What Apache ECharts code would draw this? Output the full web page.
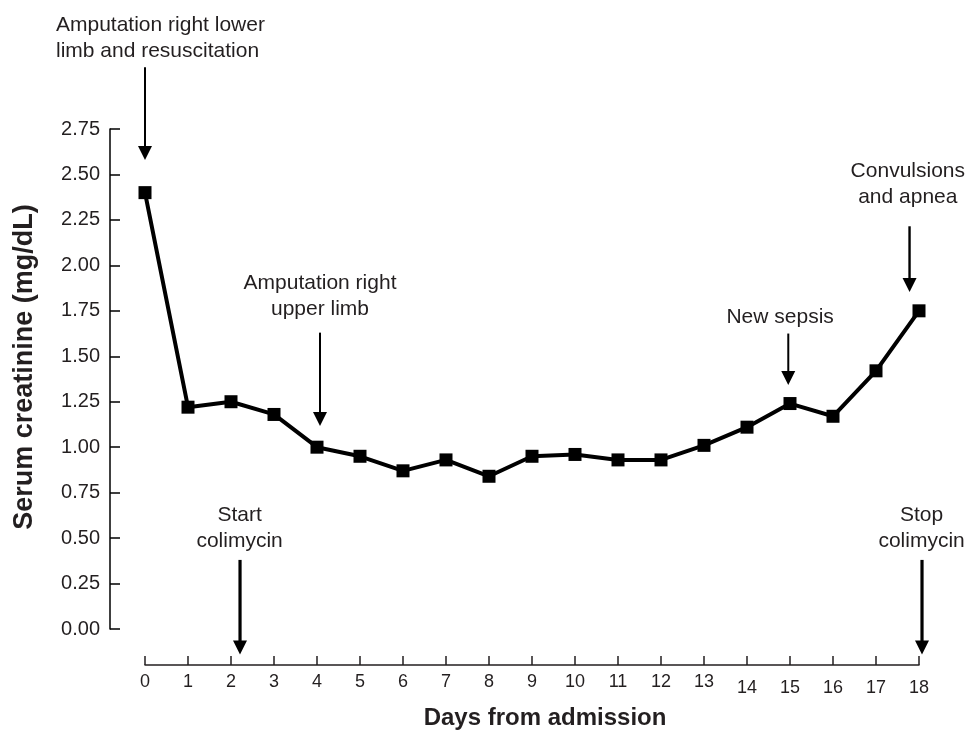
<!DOCTYPE html>
<html>
<head>
<meta charset="utf-8">
<script src="https://cdn.jsdelivr.net/npm/echarts@6/dist/echarts.min.js"></script>
<style>
html,body{margin:0;padding:0;background:#fff;}
#chart{width:972px;height:735px;}
</style>
</head>
<body>
<div id="chart"></div>
<script>
// ---- data ----
const days = [0,1,2,3,4,5,6,7,8,9,10,11,12,13,14,15,16,17,18];
const dayLabels = ['0','1','2','3','4','5','6','7','8','9','10','11','12','13','14','15','16','17','18'];
const creatinine = [2.40,1.22,1.25,1.18,1.00,0.95,0.87,0.93,0.84,0.95,0.96,0.93,0.93,1.01,1.11,1.24,1.17,1.42,1.75];
const yTicks = [0,0.25,0.5,0.75,1,1.25,1.5,1.75,2,2.25,2.5,2.75];
const eventLabels = [
  'Amputation right lower\nlimb and resuscitation',
  'Amputation right\nupper limb',
  'Start\ncolimycin',
  'Stop\ncolimycin',
  'New sepsis',
  'Convulsions\nand apnea'
];
const eventDays = [0, 4.07, 2.21, 18.07, 14.96, 17.78];

// ---- layout of annotations (data units) ----
const eventLayout = [
  {tail:3.09, tip:2.58, tx:-2.07, ty:3.25, align:'left',   w:2},
  {tail:1.63, tip:1.117, tx:4.07, ty:1.832, align:'center', w:2},
  {tail:0.38, tip:-0.14, tx:2.2,  ty:0.556, align:'center', w:3.2},
  {tail:0.38, tip:-0.14, tx:18.06,ty:0.553, align:'center', w:3.2},
  {tail:1.625,tip:1.342, tx:14.77, ty:1.717, align:'center', w:2},
  {tail:2.215,tip:1.854, tx:17.74, ty:2.444, align:'center', w:2.4}
];

const TXT = '#231f20';
const FONT = 'Liberation Sans, Arial, sans-serif';
const chart = echarts.init(document.getElementById('chart'));

const eventData = eventDays.map((d,i)=>[d, eventLayout[i].tail, eventLayout[i].tip, eventLayout[i].tx, eventLayout[i].ty]);

chart.setOption({
  animation:false,
  backgroundColor:'#fff',
  grid:{left:145, right:53, top:129, bottom:103},
  xAxis:{
    type:'value', min:0, max:18, interval:1,
    offset:36,
    name:'Days from admission', nameLocation:'middle', nameGap:41,
    nameTextStyle:{fontFamily:FONT, fontSize:24, fontWeight:'bold', color:TXT, padding:[0,0,0,26]},
    axisLine:{show:true, onZero:false, lineStyle:{color:TXT, width:1.5}},
    axisTick:{show:true, inside:true, length:9, lineStyle:{color:TXT, width:1.5}},
    splitLine:{show:false},
    axisLabel:{
      margin:8, fontFamily:FONT, fontSize:18, color:TXT,
      formatter:function(v){
        const i = days.indexOf(v);
        const s = i>=0 ? dayLabels[i] : '';
        return v>=14 ? '{lo|'+s+'}' : '{n|'+s+'}';
      },
      rich:{n:{fontFamily:FONT, fontSize:18, color:TXT, lineHeight:18}, lo:{fontFamily:FONT, fontSize:18, color:TXT, lineHeight:30}}
    }
  },
  yAxis:{
    type:'value', min:0, max:2.75, interval:0.25,
    offset:35,
    name:'Serum creatinine (mg/dL)', nameLocation:'middle', nameGap:72,
    nameTextStyle:{fontFamily:FONT, fontSize:27, fontWeight:'bold', color:TXT, padding:[0,0,0,24]},
    axisLine:{show:true, onZero:false, lineStyle:{color:'#000', width:1.5}},
    axisTick:{show:true, inside:true, length:10, lineStyle:{color:'#000', width:1.5}},
    splitLine:{show:false},
    axisLabel:{margin:10, fontFamily:FONT, fontSize:20, color:TXT,
      formatter:function(v){ return v.toFixed(2); }}
  },
  series:[
    {
      type:'line',
      data:days.map((d,i)=>[d, creatinine[i]]),
      symbol:'rect', symbolSize:13,
      lineStyle:{color:'#000', width:4},
      itemStyle:{color:'#000'},
      silent:true, z:3
    },
    {
      type:'custom',
      clip:false,
      silent:true,
      data:eventData,
      renderItem:function(params, api){
        const i = params.dataIndex;
        const L = eventLayout[i];
        const tail = api.coord([api.value(0), api.value(1)]);
        const tip = api.coord([api.value(0), api.value(2)]);
        const txt = api.coord([api.value(3), api.value(4)]);
        const head = 14, hw = 7;
        return {type:'group', children:[
          {type:'line', shape:{x1:tail[0], y1:tail[1], x2:tip[0], y2:tip[1]-head+2}, style:{stroke:'#000', lineWidth:L.w}},
          {type:'polygon', shape:{points:[[tip[0]-hw, tip[1]-head],[tip[0]+hw, tip[1]-head],[tip[0], tip[1]]]}, style:{fill:'#000'}},
          {type:'text', x:txt[0], y:txt[1], style:{text:eventLabels[i], fontFamily:FONT, fontSize:21, fill:TXT, align:L.align, verticalAlign:'middle', lineHeight:26}}
        ]};
      },
      z:4
    }
  ]
});
</script>
</body>
</html>
